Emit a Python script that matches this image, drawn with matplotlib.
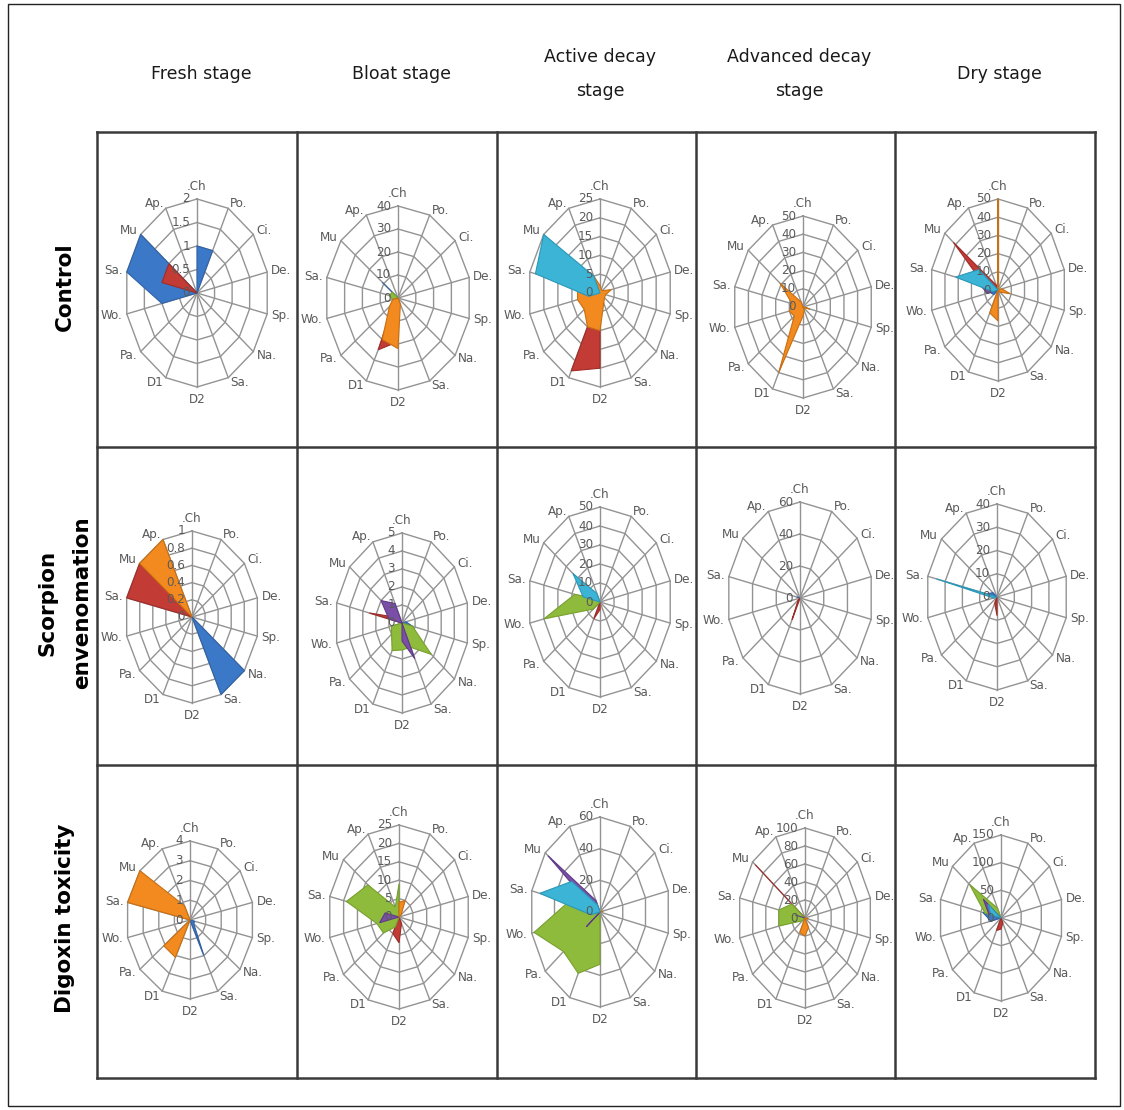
#!/usr/bin/env python
"""grid of radar charts: insect taxa per decomposition stage and treatment"""
import numpy as np
import matplotlib
matplotlib.use("Agg")
import matplotlib.pyplot as plt
from matplotlib.lines import Line2D
from matplotlib.patches import Rectangle

# categories clockwise from the top
categories = [".Ch", "Po.", "Ci.", "De.", "Sp.", "Na.", "Sa.", "D2", "D1",
              "Pa.", "Wo.", "Sa.", "Mu", "Ap."]
stages = ["Fresh stage", "Bloat stage", "Active decay\nstage",
          "Advanced decay\nstage", "Dry stage"]
groups = ["Control", "Scorpion\nenvenomation", "Digoxin toxicity"]

scale_max = [[2, 40, 25, 50, 50],
             [1, 5, 50, 60, 40],
             [4, 25, 60, 100, 150]]
scale_step = [[0.5, 10, 5, 10, 10],
              [0.2, 1, 10, 20, 10],
              [1, 5, 20, 20, 50]]

# series values, one dict per cell (keyed by series colour)
control_fresh = {
    "blue": [1, 1, 0, 0, 0, 0, 0, 0, 0, 0, 1, 2, 2, 0],
    "red": [0, 0, 0, 0, 0, 0, 0, 0, 0, 0, 0, 1, 1, 0],
}
control_bloat = {
    "blue": [0, 0, 0, 0, 0, 0, 0, 0, 0, 0, 0, 0, 11, 0],
    "red": [0, 0, 0, 0, 0, 0, 0, 19, 25, 3, 0, 0, 0, 0],
    "green": [0, 0, 0, 0, 0, 0, 0, 0, 0, 0, 3, 5, 4, 0],
    "orange": [0, 0, 0, 0, 0, 0, 3, 22, 20, 6, 3, 0, 0, 0],
}
control_active = {
    "red": [0, 0, 0, 0, 0, 0, 0, 20, 23, 0, 0, 0, 0, 0],
    "orange": [2, 1, 1, 4, 2, 2, 3, 10, 10, 7, 8, 8, 6, 5],
    "aqua": [0, 0, 0, 0, 0, 0, 0, 0, 0, 0, 4, 23, 25, 5],
}
control_advanced = {
    "green": [0, 0, 0, 0, 0, 0, 2, 4, 0, 0, 0, 0, 0, 0],
    "orange": [0, 0, 0, 0, 5, 0, 2, 5, 40, 8, 10, 8, 21, 3],
}
control_dry = {
    "blue": [0, 0, 0, 0, 0, 0, 0, 0, 0, 4, 6, 0, 0, 0],
    "red": [0, 0, 0, 0, 0, 0, 0, 0, 0, 0, 0, 10, 42, 3],
    "purple": [0, 0, 0, 0, 0, 0, 0, 0, 0, 0, 8, 14, 6, 0],
    "orange": [50, 0, 0, 3, 9, 2, 0, 17, 14, 0, 0, 0, 0, 0],
    "aqua": [0, 0, 0, 0, 0, 0, 0, 0, 0, 0, 4, 32, 18, 0],
}
scorpion_fresh = {
    "blue": [0, 0, 0, 0, 0, 1, 1, 0, 0, 0, 0, 0, 0, 0],
    "red": [0, 0, 0, 0, 0, 0, 0, 0, 0, 0, 0, 1, 1, 0],
    "orange": [0, 0, 0, 0, 0, 0, 0, 0, 0, 0, 0, 0, 1, 1],
}
scorpion_bloat = {
    "blue": [0, 0, 0, 0.3, 0.8, 0, 0, 0, 0, 0, 0, 0, 0, 0],
    "red": [0, 0, 0, 0, 0, 0, 0, 0, 0, 0, 0, 2.5, 0.5, 0],
    "green": [0, 0, 0, 0, 0.8, 2.8, 1.5, 1.5, 1.7, 1, 0.8, 0, 0, 0],
    "purple": [0, 0, 0, 0, 0, 0, 2.2, 1, 0, 0, 0, 1, 2, 1.2],
}
scorpion_active = {
    "red": [0, 0, 0, 0, 0, 0, 0, 4, 10, 0, 0, 0, 0, 0],
    "green": [0, 0, 0, 0, 0, 0, 0, 0, 0, 6, 40, 18, 3, 0],
    "aqua": [0, 0, 0, 0, 0, 0, 0, 0, 0, 0, 0, 12, 24, 5],
}
scorpion_advanced = {
    "blue": [0, 0, 0, 0, 0, 0, 0, 0, 0, 0, 0, 3, 0, 0],
    "red": [0, 0, 0, 0, 0, 0, 0, 0, 15, 2, 0, 0, 0, 0],
}
scorpion_dry = {
    "blue": [0, 0, 0, 0, 0, 0, 0, 0, 0, 0, 0, 6, 3, 0],
    "red": [0, 0, 0, 0, 0, 0, 0, 8, 3, 0, 0, 0, 0, 0],
    "aqua": [0, 0, 0, 0, 0, 0, 0, 0, 0, 0, 2, 35, 0, 0],
}
digoxin_fresh = {
    "blue": [0, 0, 0, 0, 0.3, 0.3, 2, 0, 0, 0, 0, 0, 0, 0],
    "orange": [0, 0, 0, 0, 0, 0, 0, 0, 2.1, 2.1, 0, 4, 4, 0.8],
}
digoxin_bloat = {
    "red": [0, 0, 0, 0, 0, 0, 2, 7, 5, 0, 0, 0, 0, 0],
    "green": [9, 0, 0, 0, 0, 0, 0, 0, 3, 7, 8, 19, 14, 3],
    "purple": [0, 0, 0, 0, 0, 0, 0, 0, 0, 0, 7, 5, 0, 0],
    "orange": [4, 5, 1, 0, 0, 0, 0, 0, 0, 0, 0, 0, 0, 0],
}
digoxin_active = {
    "green": [0, 0, 0, 0, 0, 0, 0, 33, 43, 40, 58, 28, 5, 0],
    "purple": [0, 0, 0, 0, 0, 0, 0, 0, 0, 15, 0, 5, 57, 8],
    "orange": [0, 0, 0, 3, 0, 0, 0, 0, 0, 0, 0, 0, 0, 0],
    "aqua": [0, 0, 0, 0, 0, 0, 0, 0, 0, 0, 8, 53, 31, 5],
}
digoxin_advanced = {
    "red": [0, 0, 0, 0, 0, 0, 0, 0, 0, 0, 0, 0, 95, 0],
    "green": [0, 0, 0, 0, 0, 0, 0, 0, 0, 5, 40, 40, 25, 0],
    "purple": [0, 0, 0, 0, 0, 0, 0, 0, 0, 0, 0, 15, 0, 0],
    "orange": [0, 0, 0, 0, 5, 0, 12, 20, 18, 0, 0, 0, 0, 0],
}
digoxin_dry = {
    "blue": [0, 0, 0, 0, 0, 0, 0, 0, 0, 0, 25, 45, 0, 0],
    "red": [0, 0, 0, 0, 0, 0, 10, 20, 25, 0, 0, 0, 0, 0],
    "green": [0, 0, 0, 0, 0, 0, 0, 0, 0, 0, 0, 40, 97, 20],
    "purple": [0, 0, 0, 0, 0, 0, 0, 0, 0, 0, 0, 30, 55, 0],
    "aqua": [0, 0, 0, 0, 0, 0, 0, 0, 0, 0, 0, 25, 40, 0],
}

cells = [[control_fresh, control_bloat, control_active, control_advanced, control_dry],
         [scorpion_fresh, scorpion_bloat, scorpion_active, scorpion_advanced, scorpion_dry],
         [digoxin_fresh, digoxin_bloat, digoxin_active, digoxin_advanced, digoxin_dry]]

COLORS = {"blue": ("#3c78c8", "#2f62a6"), "red": ("#c23b35", "#9e2c28"),
          "green": ("#8fbb3c", "#78a02e"), "purple": ("#7b4fa8", "#5f3a86"),
          "aqua": ("#3bb4d6", "#2b98b8"), "orange": ("#f28a1f", "#c86f12")}
ORDER = ["blue", "red", "green", "purple", "orange", "aqua"]
GRID = "#939393"
TXT = "#5a5a5a"

# layout in pixels: radar centre x, y and half width / half height
W, H = 1124, 1110
radar_box = [[(197, 293, 72, 94), (398, 298, 73, 92), (600, 293, 72, 94), (803, 307, 70, 91), (998, 290, 68, 91)],
             [(192, 617, 67, 86), (402, 623, 67, 90), (600, 602, 72, 95), (800, 598, 73, 96), (997, 597, 71, 93)],
             [(190, 920, 64, 79), (399, 917, 71, 92), (600, 912, 70, 95), (805, 918, 67, 90), (1001, 918, 62, 83)]]
col_x = [97, 297, 497, 696, 895, 1095]
row_y = [132, 447, 765, 1078]

label_font = ["DejaVu Sans"]

fig = plt.figure(figsize=(W / 100, H / 100), dpi=100)
fig.patch.set_facecolor("white")

theta = np.arange(len(categories)) * 2 * np.pi / len(categories)
theta_c = np.append(theta, theta[0])


def radar(ax, data, vmax, step):
    ax.set_aspect("auto")
    ax.set_theta_zero_location("N")
    ax.set_theta_direction(-1)
    ax.set_ylim(0, vmax)
    ax.grid(False)
    ax.spines["polar"].set_visible(False)
    ax.set_xticks([])
    ax.set_yticks([])
    ax.patch.set_alpha(0)
    rings = np.arange(step, vmax + step / 2, step)
    for r in rings:
        ax.plot(theta_c, [r] * len(theta_c), color=GRID, lw=1, clip_on=False, zorder=1)
    for t in theta:
        ax.plot([t, t], [0, vmax], color=GRID, lw=1, clip_on=False, zorder=1)
    for key in ORDER:
        if key not in data:
            continue
        vals = np.append(data[key], data[key][0])
        fc, ec = COLORS[key]
        ax.fill(theta_c, vals, facecolor=fc, edgecolor=ec, lw=0.8,
                clip_on=False, zorder=3)
    for v in np.arange(0, vmax + step / 2, step):
        ax.annotate(f"{round(v, 2):g}", xy=(0, v), xytext=(-5, 0),
                    textcoords="offset points", ha="right", va="center",
                    fontsize=9.5, color=TXT, family=label_font, fontstretch="condensed",
                    annotation_clip=False, zorder=4)
    for t, cat in zip(theta, categories):
        s, c = np.sin(t), np.cos(t)
        ha = "left" if s > 0.15 else ("right" if s < -0.15 else "center")
        va = "bottom" if c > 0.95 else ("top" if c < -0.95 else "center")
        ax.annotate(cat, xy=(t, vmax), xytext=(3 * s, 4 * c),
                    textcoords="offset points", ha=ha, va=va, fontsize=9.5,
                    color=TXT, family=label_font, fontstretch="condensed",
                    annotation_clip=False)


for i in range(3):
    for j in range(5):
        cx, cy, rx, ry = radar_box[i][j]
        ax = fig.add_axes([(cx - rx) / W, 1 - (cy + ry) / H, 2 * rx / W, 2 * ry / H],
                          projection="polar")
        radar(ax, cells[i][j], scale_max[i][j], scale_step[i][j])

# table lines
for x in col_x:
    fig.add_artist(Line2D([x / W, x / W], [1 - row_y[0] / H, 1 - row_y[-1] / H],
                          color="#3a3a3a", lw=1.8, transform=fig.transFigure))
for y in row_y:
    fig.add_artist(Line2D([col_x[0] / W, col_x[-1] / W], [1 - y / H, 1 - y / H],
                          color="#3a3a3a", lw=1.8, transform=fig.transFigure))
fig.add_artist(Rectangle((8 / W, 1 - 1106 / H), 1112 / W, 1102 / H, fill=False,
                         ec="#222222", lw=1, transform=fig.transFigure))

# column headers
for j, name in enumerate(stages):
    xc = (col_x[j] + col_x[j + 1]) / 2 / W
    fig.text(xc + 4 / W, 1 - 74 / H, name, ha="center", va="center",
             fontsize=12.5, linespacing=2.2, color="#1a1a1a", family=label_font)

# row headers
for i, name in enumerate(groups):
    yc = (row_y[i] + row_y[i + 1]) / 2 / H
    fig.text(65 / W, 1 - yc + 3 / H, name, ha="center", va="center",
             rotation=90, fontsize=15.5, fontweight="bold", linespacing=1.9,
             color="black")

fig.savefig("out.png", dpi=100)
